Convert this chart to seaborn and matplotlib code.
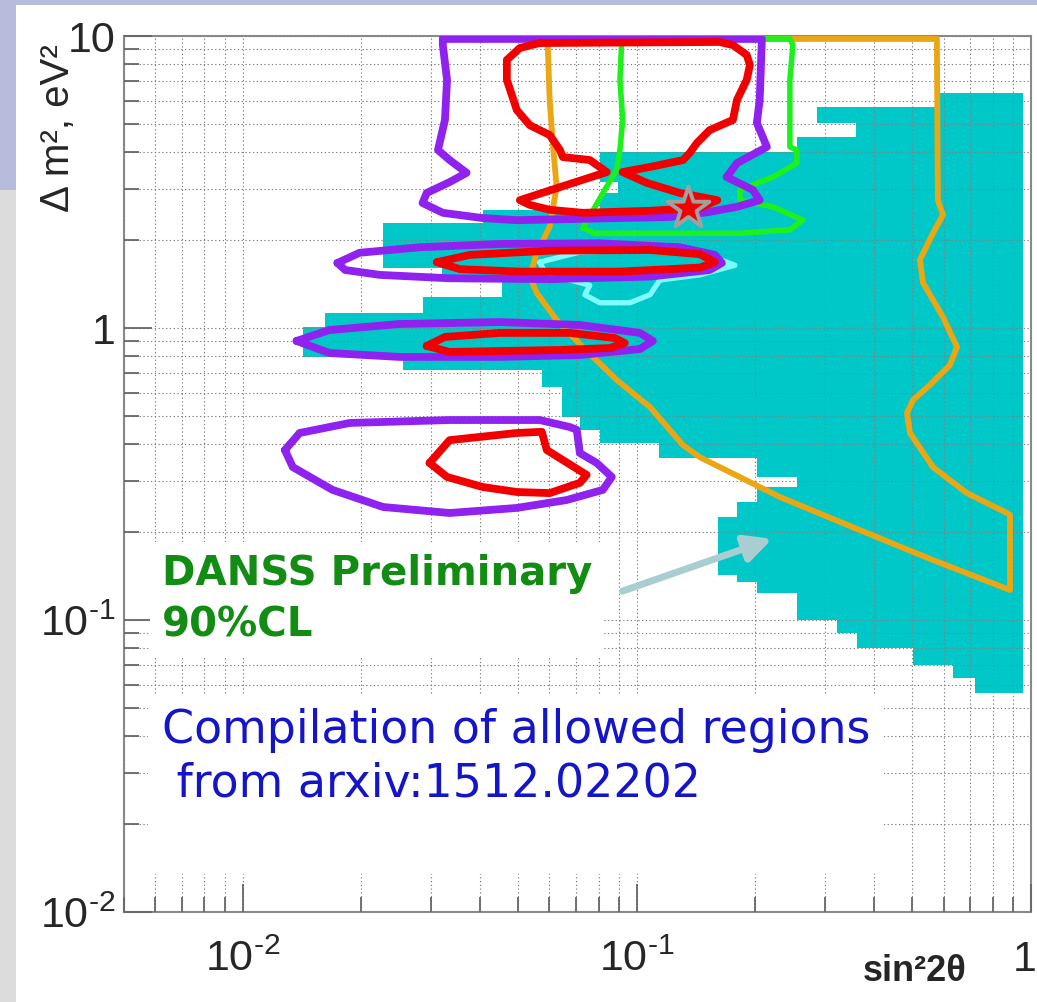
import numpy as np
import matplotlib
matplotlib.use("Agg")
import matplotlib.pyplot as plt
from matplotlib.patches import Rectangle
from matplotlib.transforms import ScaledTranslation
import seaborn as sns

# ---------- data: sin^2(2theta) vs dm^2 [eV^2] ----------
# DANSS 90% CL excluded region (binned staircase outline)
danss_x = [0.954, 0.954, 0.721, 0.721, 0.634, 0.634, 0.502, 0.502,
           0.362, 0.362, 0.322, 0.322, 0.255, 0.255, 0.202, 0.202,
           0.180, 0.180, 0.161, 0.161, 0.180, 0.180, 0.202, 0.202,
           0.255, 0.255, 0.202, 0.202, 0.114, 0.114, 0.0805, 0.0805,
           0.0717, 0.0717, 0.0645, 0.0645, 0.0574, 0.0574, 0.0255, 0.0255,
           0.0142, 0.0142, 0.0162, 0.0162, 0.0286, 0.0286, 0.0454, 0.0454,
           0.032, 0.032, 0.0227, 0.0227, 0.0406, 0.0406, 0.0805, 0.0805,
           0.0895, 0.0895, 0.0805, 0.0805, 0.255, 0.255, 0.36, 0.36,
           0.286, 0.286, 0.5875, 0.5875]
danss_y = [6.38, 0.0562, 0.0562, 0.0633, 0.0633, 0.0701, 0.0701, 0.0802,
           0.0802, 0.0903, 0.0903, 0.100, 0.100, 0.124, 0.124, 0.135,
           0.135, 0.143, 0.143, 0.225, 0.225, 0.2535, 0.2535, 0.2855,
           0.2855, 0.309, 0.309, 0.359, 0.359, 0.404, 0.404, 0.448,
           0.448, 0.496, 0.496, 0.628, 0.628, 0.718, 0.718, 0.796,
           0.796, 1.008, 1.008, 1.13, 1.13, 1.28, 1.28, 1.46,
           1.46, 1.61, 1.61, 2.29, 2.29, 2.54, 2.54, 2.90,
           2.90, 3.16, 3.16, 4.01, 4.01, 4.51, 4.51, 5.04,
           5.04, 5.71, 5.71, 6.38]

# allowed regions, compilation arxiv:1512.02202
purple_top_x = [0.0322, 0.2076, 0.205, 0.2016, 0.2138, 0.1795, 0.169, 0.197,
                0.205, 0.1795, 0.1506, 0.121, 0.0496, 0.0406, 0.0322, 0.0286,
                0.0293, 0.0335, 0.037, 0.0335, 0.0313, 0.0326, 0.033, 0.0322]
purple_top_y = [9.77, 9.77, 6.04, 5.04, 4.17, 3.67, 3.29, 2.97,
                2.74, 2.60, 2.49, 2.40, 2.34, 2.38, 2.48, 2.68,
                2.90, 3.16, 3.40, 3.76, 4.07, 5.16, 7.07, 9.31]
purple_mid_x = [0.0174, 0.0198, 0.0281, 0.0449, 0.0805, 0.1286, 0.1578,
                0.1643, 0.153, 0.108, 0.0601, 0.0335, 0.0223, 0.0182]
purple_mid_y = [1.67, 1.81, 1.89, 1.94, 1.95, 1.89, 1.78,
                1.67, 1.58, 1.50, 1.47, 1.48, 1.52, 1.58]
purple_one_x = [0.0137, 0.0166, 0.025, 0.0449, 0.0717, 0.1018,
                0.1098, 0.1018, 0.0717, 0.0449, 0.025, 0.0166]
purple_one_y = [0.903, 0.984, 1.032, 1.048, 1.024, 0.962,
                0.903, 0.847, 0.808, 0.796, 0.796, 0.821]
purple_low_x = [0.0128, 0.01395, 0.0187, 0.0335, 0.0567, 0.0676, 0.0704, 0.0717,
                0.0791, 0.0864, 0.082, 0.0664, 0.0496, 0.0335, 0.0227, 0.0169, 0.0134]
purple_low_y = [0.382, 0.437, 0.473, 0.484, 0.484, 0.458, 0.448, 0.373,
                0.345, 0.309, 0.279, 0.2576, 0.242, 0.2325, 0.2438, 0.279, 0.334]

red_top_x = [0.0567, 0.162, 0.1753, 0.190, 0.1936, 0.190, 0.1795, 0.1753,
             0.153, 0.142, 0.1363, 0.131, 0.108, 0.092, 0.106, 0.1286,
             0.160, 0.1445, 0.108, 0.0729, 0.0601, 0.0535, 0.0505, 0.0664,
             0.0839, 0.076, 0.0649, 0.0638, 0.0601, 0.0535, 0.0496, 0.0468,
             0.0468, 0.0505]
red_top_y = [9.46, 9.54, 9.31, 8.61, 7.96, 7.07, 6.04, 5.16,
             4.76, 4.30, 3.98, 3.76, 3.56, 3.42, 3.14, 2.90,
             2.74, 2.58, 2.52, 2.48, 2.54, 2.64, 2.74, 3.09,
             3.42, 3.76, 3.85, 4.07, 4.58, 4.95, 5.58, 7.07,
             8.28, 9.10]
red_mid_x = [0.0311, 0.0377, 0.0601, 0.108, 0.1445, 0.1578, 0.1445, 0.0906, 0.0505, 0.0356]
red_mid_y = [1.68, 1.78, 1.84, 1.85, 1.79, 1.68, 1.61, 1.56, 1.56, 1.59]
red_one_x = [0.0293, 0.0326, 0.0449, 0.0676, 0.088, 0.0932, 0.0854, 0.0638, 0.0449, 0.0335]
red_one_y = [0.868, 0.932, 0.962, 0.962, 0.924, 0.888, 0.854, 0.841, 0.834, 0.828]
red_low_x = [0.0298, 0.0335, 0.0496, 0.0574, 0.0591, 0.0649, 0.0746, 0.0717, 0.0601, 0.0496, 0.0406, 0.033]
red_low_y = [0.345, 0.413, 0.437, 0.441, 0.382, 0.353, 0.314, 0.295, 0.272, 0.2744, 0.2855, 0.309]

green_x = [0.0916, 0.0906, 0.0921, 0.0906, 0.0889, 0.0829, 0.0769, 0.0729,
           0.0783, 0.1363, 0.1825, 0.2445, 0.2638, 0.2215, 0.1825, 0.1825,
           0.2215, 0.2547, 0.2547, 0.2445, 0.2445, 0.2489, 0.2445]
green_y = [9.77, 7.07, 5.16, 4.07, 3.48, 2.97, 2.49, 2.20,
           2.11, 2.11, 2.11, 2.17, 2.34, 2.60, 2.74, 2.97,
           3.29, 3.67, 4.07, 4.17, 7.07, 9.31, 9.77]

cyan_x = [0.0567, 0.0717, 0.108, 0.1445, 0.1774, 0.1445, 0.1144,
          0.108, 0.096, 0.0805, 0.0738, 0.076, 0.0676, 0.0584]
cyan_y = [1.68, 1.82, 1.85, 1.82, 1.64, 1.52, 1.46,
          1.30, 1.22, 1.22, 1.30, 1.40, 1.46, 1.56]

orange_x = [0.0594, 0.5771, 0.5804, 0.598, 0.5638, 0.5226, 0.532, 0.598, 0.649,
            0.623, 0.554, 0.502, 0.4846, 0.4932, 0.5638, 0.688, 0.869, 0.8845,
            0.8845, 0.5638, 0.3834, 0.2307, 0.1445, 0.131, 0.108, 0.0889, 0.0729,
            0.0626, 0.0557, 0.0535, 0.0557, 0.0601, 0.0626, 0.0612, 0.0601, 0.0594]
orange_y = [9.77, 9.77, 2.74, 2.44, 2.11, 1.71, 1.43, 1.09, 0.861,
            0.747, 0.638, 0.567, 0.512, 0.437, 0.334, 0.272, 0.2325, 0.229,
            0.1267, 0.1605, 0.1986, 0.2637, 0.361, 0.397, 0.536, 0.664, 0.861,
            1.065, 1.32, 1.50, 1.81, 2.22, 3.04, 4.30, 6.04, 9.46]

best_fit_x = [0.135]
best_fit_y = [2.58]

arrow_tail = (0.0906, 0.1247)
arrow_head = (0.224, 0.191)

xtick_vals = [0.01, 0.1, 1.0]
xtick_labels = ["$10^{\u20102}$", "$10^{\u20101}$", "1"]
ytick_vals = [0.01, 0.1, 1.0, 10.0]
ytick_labels = ["$10^{\u20102}$", "$10^{\u20101}$", "1", "10"]

# ---------- style ----------
sns.set_style("white")
plt.rcParams["font.family"] = ["Liberation Sans", "DejaVu Sans"]
plt.rcParams["mathtext.default"] = "regular"

TEAL = "#00c8c8"
PURPLE = "#8f22ee"
RED = "#f20000"
GREEN = "#1ef01e"
ORANGE = "#eba614"
CYAN = "#7ffcff"

fig = plt.figure(figsize=(10.37, 10.02), dpi=100)
# slide decoration behind the plot
fig.add_artist(Rectangle((0, 1 - 5 / 1002), 1, 5 / 1002, transform=fig.transFigure,
                         fc="#b8bcdc", ec="none", zorder=0))
fig.add_artist(Rectangle((0, 1 - 190 / 1002), 16 / 1037, 190 / 1002, transform=fig.transFigure,
                         fc="#b8bcdc", ec="none", zorder=0))
fig.add_artist(Rectangle((0, 0), 16 / 1037, 1 - 190 / 1002, transform=fig.transFigure,
                         fc="#dcdcdc", ec="none", zorder=0))

ax = fig.add_axes([124 / 1037, 90 / 1002, 907 / 1037, 876 / 1002])
ax.set_xscale("log")
ax.set_yscale("log")
ax.set_xlim(0.005, 1.0)
ax.set_ylim(0.01, 10.0)

# DANSS exclusion
ax.fill(danss_x, danss_y, color=TEAL, lw=0, zorder=1)


def contour(xs, ys, color, lw, z):
    xs = list(xs) + [xs[0]]
    ys = list(ys) + [ys[0]]
    sns.lineplot(x=xs, y=ys, sort=False, estimator=None, color=color, lw=lw,
                 ax=ax, zorder=z, solid_joinstyle="round", solid_capstyle="round")


contour(cyan_x, cyan_y, CYAN, 3.8, 3)
contour(orange_x, orange_y, ORANGE, 4.2, 3.1)
contour(green_x, green_y, GREEN, 4.0, 3.2)
for px, py in [(purple_top_x, purple_top_y), (purple_mid_x, purple_mid_y),
               (purple_one_x, purple_one_y), (purple_low_x, purple_low_y)]:
    contour(px, py, PURPLE, 5.6, 3.3)
for rx, ry in [(red_top_x, red_top_y), (red_mid_x, red_mid_y),
               (red_one_x, red_one_y), (red_low_x, red_low_y)]:
    contour(rx, ry, RED, 5.6, 3.4)

sns.scatterplot(x=best_fit_x, y=best_fit_y, marker="*", s=1000, color=RED,
                edgecolor="#a0a0a0", linewidth=2.8, ax=ax, zorder=6)

# grid, ticks, frame
ax.grid(True, which="both", color="#808080", linestyle=(0, (1.2, 2.2)), lw=0.8)
ax.set_axisbelow(False)
for sp in ax.spines.values():
    sp.set_color("#8a8a8a")
    sp.set_linewidth(1.5)
ax.tick_params(which="both", direction="in", left=True, bottom=True,
               top=False, right=False, color="#666666", width=1.3)
ax.tick_params(which="major", length=20)
ax.tick_params(which="minor", length=11)
ax.tick_params(axis="x", which="major", labelsize=31, pad=20)
ax.tick_params(axis="y", which="major", labelsize=31, pad=6)
ax.set_xticks(xtick_vals, xtick_labels)
ax.set_yticks(ytick_vals, ytick_labels)
# the "1" at the right end sits flush with the page edge
last = ax.get_xticklabels()[-1]
last.set_transform(last.get_transform() + ScaledTranslation(-0.06, 0, fig.dpi_scale_trans))

ax.set_xlabel("sin²2θ", fontsize=26, fontweight="bold")
ax.xaxis.set_label_coords(0.872, -0.048)
ax.set_ylabel("Δ m², eV²", fontsize=29)
ax.yaxis.set_label_coords(-0.052, 0.895)

# annotations
ax.annotate("", xy=arrow_head, xytext=arrow_tail,
            arrowprops=dict(arrowstyle="-|>", color="#a9cdd0", lw=5,
                            mutation_scale=40), zorder=4)
ax.text(0.00623, 0.168, "DANSS Preliminary\n90%CL", color="#128c12", fontsize=29,
        fontweight="bold", family="DejaVu Sans", va="top", ha="left",
        linespacing=1.35, zorder=5,
        bbox=dict(boxstyle="square,pad=0.3", fc="white", ec="none"))
ax.text(0.00623, 0.050, "Compilation of allowed regions\n from arxiv:1512.02202\n ",
        color="#1414c8", fontsize=33, family="DejaVu Sans", va="top", ha="left",
        linespacing=1.25, zorder=5,
        bbox=dict(boxstyle="square,pad=0.3", fc="white", ec="none"))

fig.savefig("out.png", dpi=100)
